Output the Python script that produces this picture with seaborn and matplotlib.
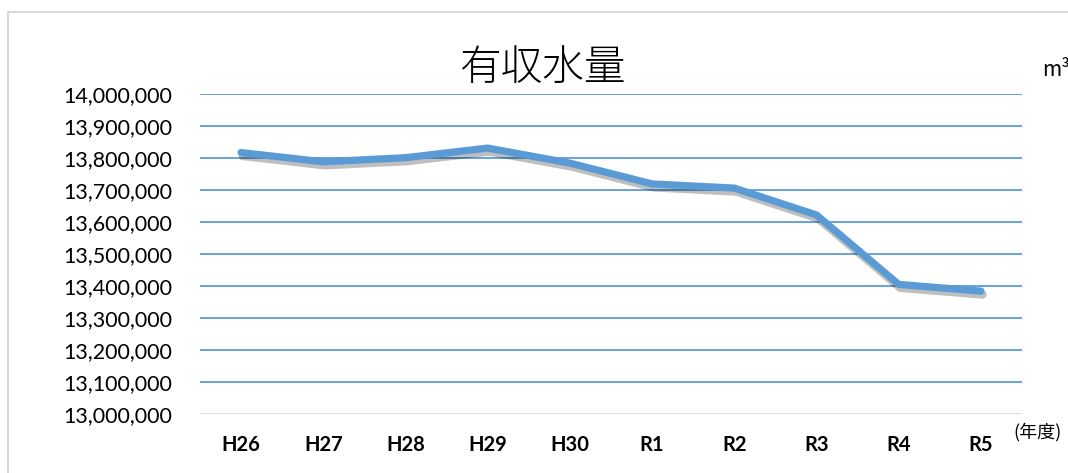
import matplotlib
matplotlib.use("Agg")
import matplotlib.pyplot as plt
import matplotlib.patheffects as pe
from matplotlib.ticker import FuncFormatter
import seaborn as sns
import pandas as pd

# Fiscal years and billed water volume (m³)
years = ["H26", "H27", "H28", "H29", "H30", "R1", "R2", "R3", "R4", "R5"]
volume = [13817000, 13788000, 13801000, 13831000, 13784000,
          13719000, 13706000, 13622000, 13405000, 13384000]
y_ticks = [13000000 + i * 100000 for i in range(11)]

sns.set_theme(style="white")
plt.rcParams["font.family"] = ["Lato", "Noto Sans CJK JP", "DejaVu Sans"]

df = pd.DataFrame({"year": years, "volume": volume})

fig = plt.figure(figsize=(10.68, 4.73), dpi=100)
ax = fig.add_axes([200 / 1068, 1 - 414 / 473, 822 / 1068, 320 / 473])

blue = "#5B9BD5"
sns.lineplot(data=df, x="year", y="volume", ax=ax, color=blue, linewidth=5.2,
             sort=False, solid_capstyle="round", solid_joinstyle="round",
             path_effects=[pe.SimpleLineShadow(offset=(1.2, -2.5), shadow_color="black",
                                               alpha=0.25, linewidth=6.0),
                           pe.Normal()])

ax.set_xlim(-0.5, len(years) - 0.5)
ax.set_ylim(y_ticks[0], y_ticks[-1])
ax.set_yticks(y_ticks)
ax.yaxis.set_major_formatter(FuncFormatter(lambda v, p: f"{int(round(v)):,}"))
ax.set_xlabel("")
ax.set_ylabel("")

for y in y_ticks[1:]:
    ax.axhline(y, color=blue, linewidth=1.3, zorder=0)
ax.axhline(y_ticks[0], color="#D9D9D9", linewidth=1.3, zorder=0)

for s in ax.spines.values():
    s.set_visible(False)
ax.tick_params(axis="y", length=0, pad=20, labelsize=15.5, labelcolor="black")
ax.tick_params(axis="x", length=0, pad=15, labelsize=14.5, labelcolor="black")
for lbl in ax.get_xticklabels():
    lbl.set_fontweight("bold")

fig.text(543 / 1068, 1 - 68 / 473, "有収水量", ha="center", va="center",
         fontsize=30, fontweight="light", family=["Noto Sans CJK JP"], color="black")
fig.text(1042 / 1068, 1 - 70 / 473, "m³", ha="left", va="center",
         fontsize=15, family=["Noto Sans CJK JP", "DejaVu Sans"], color="black")
fig.text(1013 / 1068, 1 - 432 / 473, "(年度)", ha="left", va="center",
         fontsize=13, family=["Noto Sans CJK JP", "DejaVu Sans"], color="black")

# chart area frame
fig.add_artist(plt.Line2D([8 / 1068, 8 / 1068], [0, 1 - 12 / 473],
                          transform=fig.transFigure, color="#D9D9D9", linewidth=1.5))
fig.add_artist(plt.Line2D([8 / 1068, 1], [1 - 12 / 473, 1 - 12 / 473],
                          transform=fig.transFigure, color="#D9D9D9", linewidth=1.5))

fig.savefig("out.png", dpi=100)
